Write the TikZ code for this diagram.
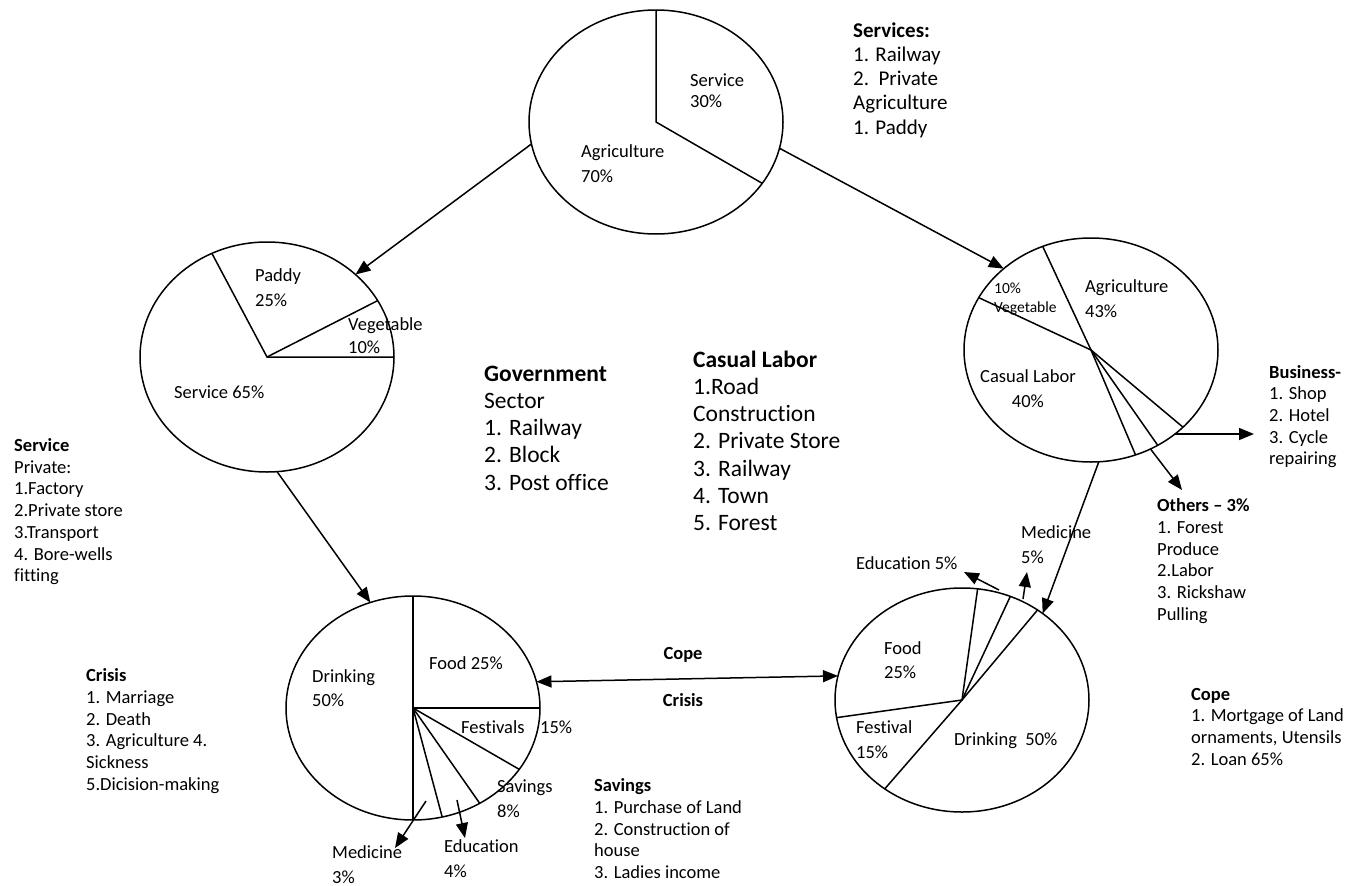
\documentclass[tikz,border=0pt]{standalone}
\usepackage{fontspec}
\setmainfont{Carlito}[Ligatures=NoCommon]
\usetikzlibrary{arrows.meta,shapes.geometric}
% stacked lines whose baseline is that of the first line
\newcommand\txtlines[1]{\begin{tabular}[t]{@{}l@{}}#1\end{tabular}}
\newcommand\ctrlines[1]{\begin{tabular}[t]{@{}c@{}}#1\end{tabular}}
\begin{document}
\begin{tikzpicture}[x=1pt,y=-1pt,
  pie/.style={draw, ellipse, minimum width=254pt, minimum height=224pt,
    inner sep=0pt, outer sep=0pt, line width=1.5pt},
  cut/.style={line width=1.5pt},
  arr/.style={line width=1.5pt, -{Triangle[length=15pt,width=12pt]}},
  txt/.style={inner sep=0pt, anchor=base west,
    font=\fontsize{18.5}{21.7}\selectfont},
  big/.style={inner sep=0pt, anchor=base west,
    font=\fontsize{23.5}{27.3}\selectfont},
  mid/.style={inner sep=0pt, anchor=base west,
    font=\fontsize{21}{24.3}\selectfont},
  lbl/.style={inner sep=0pt, anchor=base west,
    font=\fontsize{18.5}{#1}\selectfont},
  lbl/.default=24.5,
  small/.style={inner sep=0pt, anchor=base west,
    font=\fontsize{15.5}{19}\selectfont},
  head/.style={inner sep=0pt, anchor=base, font=\bfseries\fontsize{18.5}{21}\selectfont}
]
\useasboundingbox (0,0) rectangle (1355,886);

% the five pie charts
\node[pie] (top) at (656,122) {};
\node[pie, minimum height=230pt] (left) at (267,357) {};
\node[pie] (right) at (1091,350) {};
\node[pie] (botl) at (413,708) {};
\node[pie] (botr) at (962,700) {};

% slices
\draw[cut] (top.90) -- (top.center) -- (top.330.7);

\draw[cut] (left.118) -- (left.center) -- (left.0);
\draw[cut] (left.center) -- (left.27.8);

\draw[cut] (right.115.9) -- (right.center) -- (right.293.1);
\draw[cut] (right.155.7) -- (right.center) -- (right.320.5);
\draw[cut] (right.center) -- (right.305.4);

\draw[cut] (botl.90) -- (botl.center) -- (botl.270);
\draw[cut] (botl.center) -- (botl.0);
\draw[cut] (botl.center) -- (botl.330);
\draw[cut] (botl.center) -- (botl.305.1);
\draw[cut] (botl.center) -- (botl.285.4);

\draw[cut] (botr.82.2) -- (botr.center) -- (botr.188.6);
\draw[cut] (botr.center) -- (botr.65.9);
\draw[cut] (botr.50.3) -- (botr.center) -- (botr.229.8);

% free ends of the outgoing arrows
\coordinate (bizend) at (1254,432);
\coordinate (othend) at (1182,490);
\coordinate (rmedA) at (1023,599);
\coordinate (rmedB) at (1027,572);
\coordinate (redA) at (999,590);
\coordinate (redB) at (964,572);
\coordinate (lmedA) at (426,801);
\coordinate (lmedB) at (395,848);
\coordinate (ledA) at (457,800);
\coordinate (ledB) at (465,838);

% connectors
\draw[arr] (top.190.6) -- (left.43.4);
\draw[arr] (top.348.9) -- (right.137.6);
\draw[arr] (left.275.7) -- (botl.112.5);
\draw[arr] (right.274.1) -- (botr.47.7);
\draw[line width=1.5pt, {Triangle[length=15pt,width=12pt]}-{Triangle[length=15pt,width=12pt]}]
  (botl.12) -- (botr.169.5);
\draw[arr] (right.315.4) -- (right.315.4 -| bizend);
\draw[arr] (right.301.4) -- (othend);
\draw[arr] (rmedA) -- (rmedB);
\draw[arr] (redA) -- (redB);
\draw[arr] (lmedA) -- (lmedB);
\draw[arr] (ledA) -- (ledB);

% slice labels
\node[lbl=21] (tsvc) at (690,86) {\txtlines{Service\\30\%}};
\node[lbl=25] (tagr) at (581,157) {\txtlines{Agriculture\\70\%}};

\node[lbl=25] (lpad) at (255,281.7) {\txtlines{Paddy\\25\%}};
\node[lbl=23] (lveg) at (348,330) {\txtlines{Vegetable\\10\%}};
\node[lbl] (lsvc) at (174,398) {Service 65\%};

\node[small] (rveg) at (994,293) {\txtlines{10\%\\Vegetable}};
\node[lbl=25] (ragr) at (1085,292) {\txtlines{Agriculture\\43\%}};
\node[lbl=25] (rcas) at (980,382) {\ctrlines{Casual Labor\\40\%}};

\node[lbl=25] (rmed) at (1021,538) {\txtlines{Medicine\\5\%}};
\node[lbl] (redu) at (856,569) {Education 5\%};
\node[lbl=24] (rfood) at (884,654) {\txtlines{Food\\25\%}};
\node[lbl=25] (rfest) at (856,733) {\txtlines{Festival\\15\%}};
\node[lbl] (rdrink) at (954,745) {Drinking\ \ 50\%};

\node[lbl=24] (ldrink) at (312,682) {\txtlines{Drinking\\50\%}};
\node[lbl] (lfood) at (429,669) {Food 25\%};
\node[lbl] (lfest) at (461,733) {Festivals};
\node[lbl] (lfestp) at (540,733) {15\%};
\node[lbl=25] (lsav) at (497,792) {\txtlines{Savings\\8\%}};
\node[lbl=25] (lmed) at (332,858) {\txtlines{Medicine\\3\%}};
\node[lbl=25] (ledu) at (444,852) {\txtlines{Education\\4\%}};

\node[head] (cope) at (683,659) {Cope};
\node[head] (crisis) at (683,706) {Crisis};

% text blocks
\node[mid] (svcs) at (853,37) {\txtlines{\textbf{Services:}\\1. Railway\\2.\ \ Private\\Agriculture\\1. Paddy}};
\node[big] (gov) at (484,381) {\txtlines{\textbf{Government}\\Sector\\1. Railway\\2. Block\\3. Post office}};
\node[big] (casual) at (693,367) {\txtlines{\textbf{Casual Labor}\\1.Road\\Construction\\2. Private Store\\3. Railway\\4. Town\\5. Forest}};
\node[txt] (svcpriv) at (14,451.5) {\txtlines{\textbf{Service}\\Private:\\1.Factory\\2.Private store\\3.Transport\\4. Bore-wells\\fitting}};
\node[txt] (crisislist) at (86,681.7) {\txtlines{\textbf{Crisis}\\1. Marriage\\2. Death\\3. Agriculture 4.\\Sickness\\5.Dicision-making}};
\node[txt] (savlist) at (594,791.7) {\txtlines{\textbf{Savings}\\1. Purchase of Land\\2. Construction of\\house\\3. Ladies income}};
\node[txt] (biz) at (1269,378) {\txtlines{\textbf{Business-}\\1. Shop\\2. Hotel\\3. Cycle\\repairing}};
\node[txt] (others) at (1157,511.7) {\txtlines{\textbf{Others – 3\%}\\1. Forest\\Produce\\2.Labor\\3. Rickshaw\\Pulling}};
\node[txt] (copelist) at (1191,700) {\txtlines{\textbf{Cope}\\1. Mortgage of Land\\ornaments, Utensils\\2. Loan 65\%}};
\end{tikzpicture}
\end{document}
